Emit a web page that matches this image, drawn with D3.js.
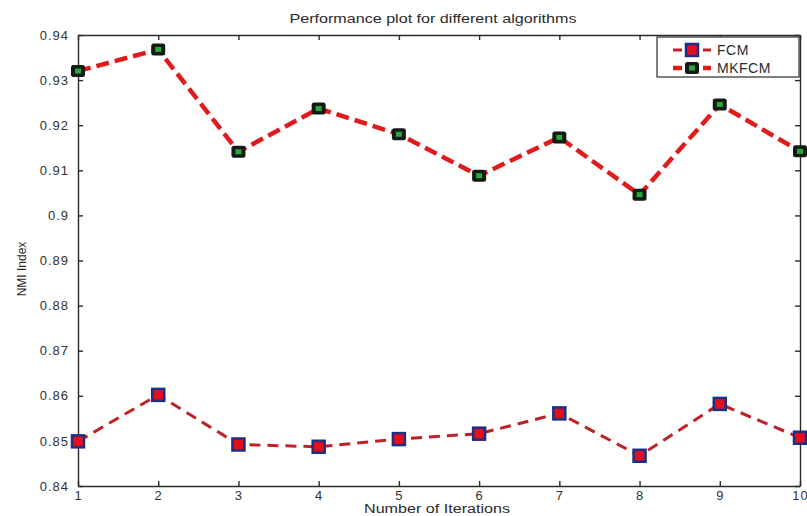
<!DOCTYPE html>
<html lang="en">
<head>
  <meta charset="UTF-8">
  <title>Performance plot for different algorithms</title>
  <script src="https://d3js.org/d3.v7.min.js"></script>
  <style>
    body { margin: 0; background: #fff; }
    svg { font-family: "Liberation Sans", Arial, sans-serif; }
    .axis path, .axis line { stroke: #2b2b2b; stroke-width: 1.4; }
    .axis text { fill: #333; font-size: 13px; letter-spacing: 1px; }
  </style>
</head>
<body>
  <svg id="chart"></svg>
  <script>
    // data
    const iterations = [1, 2, 3, 4, 5, 6, 7, 8, 9, 10];
    const fcm   = [0.8499, 0.8602, 0.8492, 0.8487, 0.8504, 0.8516, 0.8561, 0.8467, 0.8582, 0.8507];
    const mkfcm = [0.9320, 0.9368, 0.9141, 0.9237, 0.9180, 0.9088, 0.9173, 0.9046, 0.9246, 0.9142];
    const yTicks = [0.84, 0.85, 0.86, 0.87, 0.88, 0.89, 0.9, 0.91, 0.92, 0.93, 0.94];
    const seriesNames = ["FCM", "MKFCM"];

    const W = 807, H = 516;
    const margin = {top: 35, right: 7, bottom: 30, left: 78};
    const width = W - margin.left - margin.right;
    const height = H - margin.top - margin.bottom;

    const svg = d3.select("#chart").attr("width", W).attr("height", H);
    const g = svg.append("g").attr("transform", "translate(" + margin.left + "," + margin.top + ")");

    const x = d3.scaleLinear().domain([1, 10]).range([0, width]);
    const y = d3.scaleLinear().domain([0.84, 0.94]).range([height, 0]);

    // axes, ticks pointing inwards like matlab
    g.append("g").attr("class", "axis")
      .attr("transform", "translate(0," + height + ")")
      .call(d3.axisBottom(x).tickValues(iterations).tickSizeInner(-5).tickSizeOuter(0).tickPadding(5));
    g.append("g").attr("class", "axis")
      .call(d3.axisTop(x).tickValues(iterations).tickSizeInner(-5).tickSizeOuter(0).tickFormat(""));
    g.append("g").attr("class", "axis")
      .call(d3.axisLeft(y).tickValues(yTicks).tickSizeInner(-5).tickSizeOuter(0).tickPadding(9)
        .tickFormat(d => String(+d.toFixed(2))));
    g.append("g").attr("class", "axis")
      .attr("transform", "translate(" + width + ",0)")
      .call(d3.axisRight(y).tickValues(yTicks).tickSizeInner(-5).tickSizeOuter(0).tickFormat(""));

    // series
    const line = d3.line().x((d, i) => x(iterations[i])).y(d => y(d));

    g.append("path").datum(fcm)
      .attr("d", line)
      .attr("fill", "none")
      .attr("stroke", "#bf2226")
      .attr("stroke-width", 3)
      .attr("stroke-dasharray", "11,7");

    g.append("path").datum(mkfcm)
      .attr("d", line)
      .attr("fill", "none")
      .attr("stroke", "#e11b1b")
      .attr("stroke-width", 4.5)
      .attr("stroke-dasharray", "13,6");

    g.append("g").selectAll("rect").data(fcm).enter().append("rect")
      .attr("x", (d, i) => x(iterations[i]) - 6)
      .attr("y", d => y(d) - 6)
      .attr("width", 12).attr("height", 12)
      .attr("fill", "#e3101c")
      .attr("stroke", "#1d2f86")
      .attr("stroke-width", 2.5);

    const mk = g.append("g").selectAll("g").data(mkfcm).enter().append("g")
      .attr("transform", (d, i) => "translate(" + x(iterations[i]) + "," + y(d) + ")");
    mk.append("rect")
      .attr("x", -7).attr("y", -6).attr("width", 14).attr("height", 12)
      .attr("rx", 2.5)
      .attr("fill", "#161a16");
    mk.append("rect")
      .attr("x", -3).attr("y", -2.5).attr("width", 6).attr("height", 5)
      .attr("fill", "#27a83a");

    // legend
    const lg = svg.append("g").attr("transform", "translate(657,37)");
    lg.append("rect").attr("width", 142).attr("height", 40)
      .attr("fill", "#fff").attr("stroke", "#2b2b2b").attr("stroke-width", 1.2);

    const entries = lg.selectAll("g.entry").data(seriesNames).enter().append("g")
      .attr("class", "entry")
      .attr("transform", (d, i) => "translate(0," + (13 + i * 18) + ")");
    entries.append("line")
      .attr("x1", 16).attr("x2", 54).attr("y1", 0).attr("y2", 0)
      .attr("stroke", (d, i) => i ? "#e11b1b" : "#bf2226")
      .attr("stroke-width", (d, i) => i ? 4.5 : 3)
      .attr("stroke-dasharray", "9,6");
    entries.filter((d, i) => i === 0).append("rect")
      .attr("x", 29).attr("y", -6).attr("width", 12).attr("height", 12)
      .attr("fill", "#e3101c").attr("stroke", "#1d2f86").attr("stroke-width", 2.5);
    entries.filter((d, i) => i === 1).append("rect")
      .attr("x", 28).attr("y", -6).attr("width", 14).attr("height", 12).attr("rx", 2.5)
      .attr("fill", "#161a16");
    entries.filter((d, i) => i === 1).append("rect")
      .attr("x", 32).attr("y", -2.5).attr("width", 6).attr("height", 5)
      .attr("fill", "#27a83a");
    entries.append("text")
      .attr("x", 60).attr("y", 5)
      .attr("fill", "#2b2b2b")
      .style("font-size", "14px")
      .style("letter-spacing", "0.5px")
      .text(d => d);

    // titles
    svg.append("text")
      .attr("x", 433).attr("y", 23)
      .attr("text-anchor", "middle")
      .attr("fill", "#2b2b2b")
      .style("font-size", "12px")
      .attr("textLength", 287).attr("lengthAdjust", "spacingAndGlyphs")
      .text("Performance plot for different algorithms");

    svg.append("text")
      .attr("x", 437).attr("y", 513)
      .attr("text-anchor", "middle")
      .attr("fill", "#2b2b2b")
      .style("font-size", "12.5px")
      .attr("textLength", 146).attr("lengthAdjust", "spacingAndGlyphs")
      .text("Number of Iterations");

    svg.append("text")
      .attr("transform", "translate(26,269) rotate(-90)")
      .attr("text-anchor", "middle")
      .attr("fill", "#2b2b2b")
      .style("font-size", "12px")
      .text("NMI Index");
  </script>
</body>
</html>
